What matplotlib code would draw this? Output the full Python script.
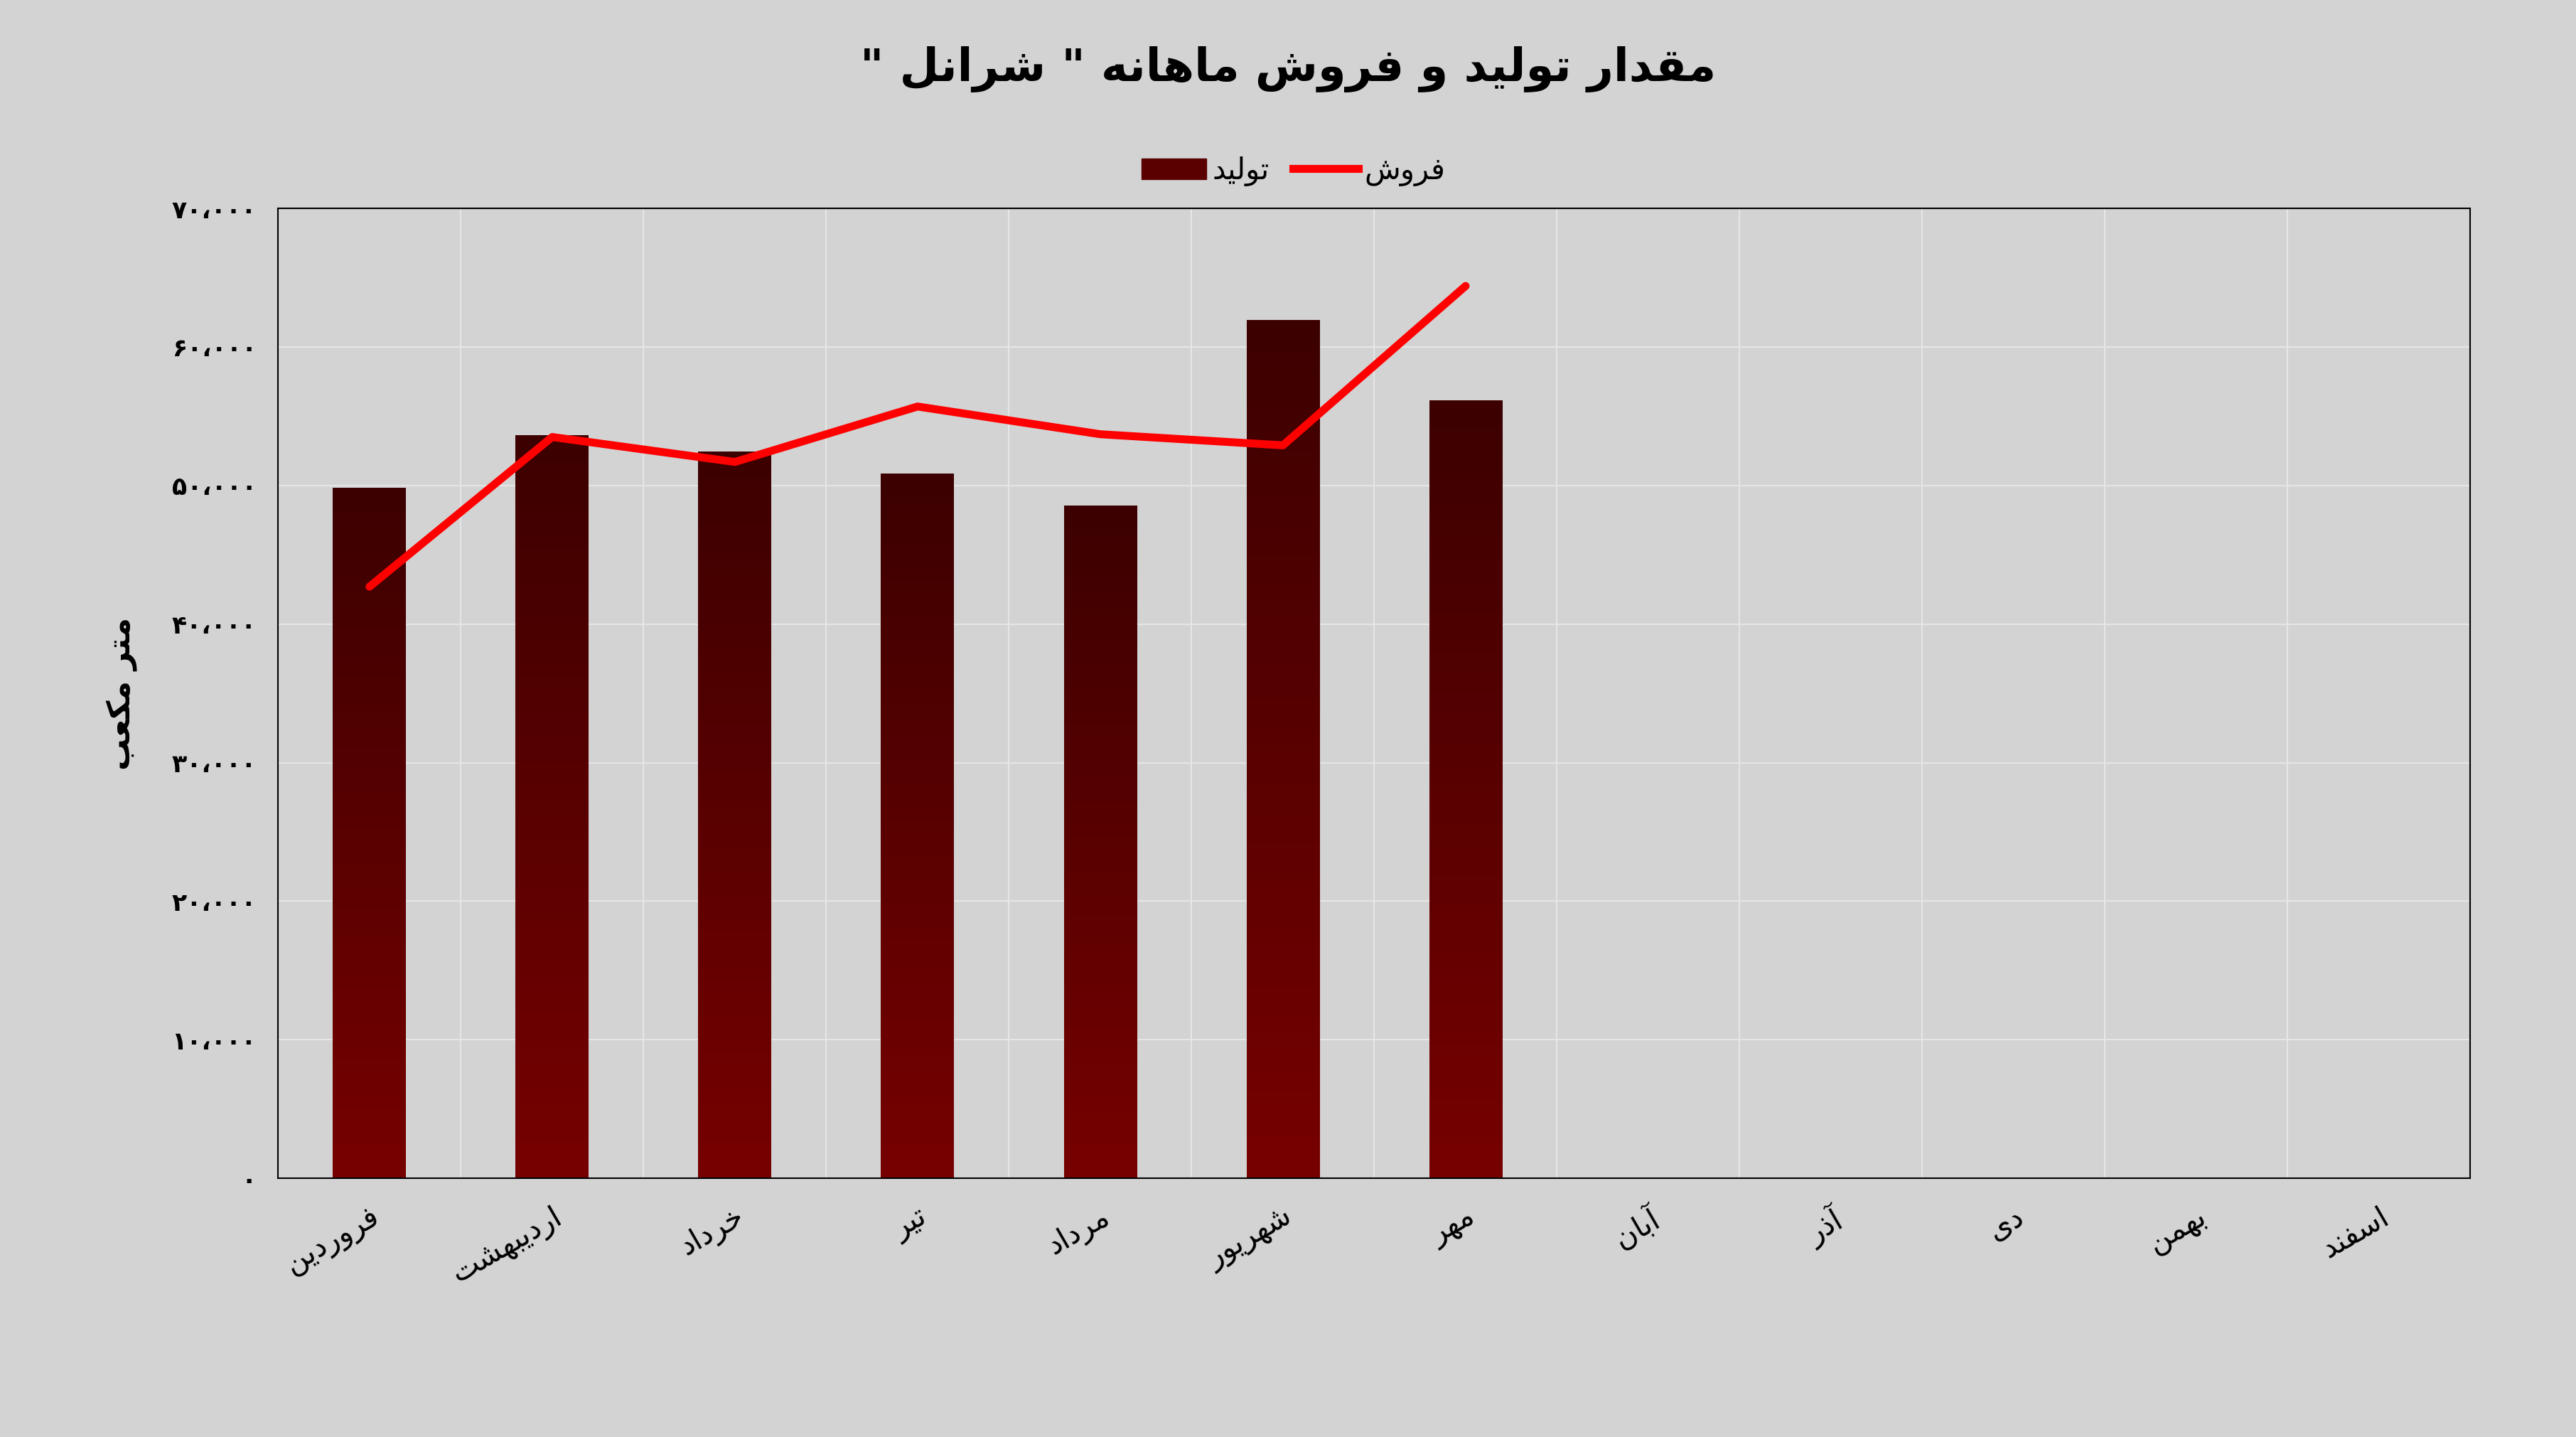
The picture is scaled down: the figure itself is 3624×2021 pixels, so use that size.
import matplotlib
matplotlib.use("Agg")
import matplotlib.pyplot as plt
import numpy as np
from matplotlib.ticker import FuncFormatter

months = ["فروردین","اردیبهشت","خرداد","تیر","مرداد","شهریور","مهر","آبان","آذر","دی","بهمن","اسفند"]
production = [49800, 53600, 52400, 50800, 48500, 61900, 56100]
sales = [42700, 53500, 51700, 55700, 53700, 52900, 64400]
title = 'مقدار تولید و فروش ماهانه " شرانل "'
ylabel = "متر مکعب"
leg_prod = "تولید"
leg_sales = "فروش"

FORMS = {
 'ا':(0xFE8D,0xFE8E,None,None),'آ':(0xFE81,0xFE82,None,None),
 'ب':(0xFE8F,0xFE90,0xFE91,0xFE92),'ت':(0xFE95,0xFE96,0xFE97,0xFE98),
 'خ':(0xFEA5,0xFEA6,0xFEA7,0xFEA8),'د':(0xFEA9,0xFEAA,None,None),
 'ذ':(0xFEAB,0xFEAC,None,None),'ر':(0xFEAD,0xFEAE,None,None),
 'س':(0xFEB1,0xFEB2,0xFEB3,0xFEB4),'ش':(0xFEB5,0xFEB6,0xFEB7,0xFEB8),
 'ع':(0xFEC9,0xFECA,0xFECB,0xFECC),'ف':(0xFED1,0xFED2,0xFED3,0xFED4),
 'ق':(0xFED5,0xFED6,0xFED7,0xFED8),'ل':(0xFEDD,0xFEDE,0xFEDF,0xFEE0),
 'م':(0xFEE1,0xFEE2,0xFEE3,0xFEE4),'ن':(0xFEE5,0xFEE6,0xFEE7,0xFEE8),
 'ه':(0xFEE9,0xFEEA,0xFEEB,0xFEEC),'و':(0xFEED,0xFEEE,None,None),
 'ک':(0xFB8E,0xFB8F,0xFB90,0xFB91),'ی':(0xFBFC,0xFBFD,0xFBFE,0xFBFF),
}
def dual(c):
    return c in FORMS and FORMS[c][2] is not None
def shape(s):
    out = []
    for i, c in enumerate(s):
        if c not in FORMS:
            out.append(c); continue
        prev = s[i-1] if i > 0 else ''
        nxt = s[i+1] if i+1 < len(s) else ''
        jp = dual(prev)
        jn = dual(c) and nxt in FORMS
        f = FORMS[c]
        if jp and jn: code = f[3]
        elif jp: code = f[1]
        elif jn: code = f[2]
        else: code = f[0]
        out.append(chr(code))
    return ''.join(out)[::-1]

plt.rcParams['font.family'] = ['DejaVu Sans']
PD = str.maketrans("0123456789", "۰۱۲۳۴۵۶۷۸۹")
def fa(v, p):
    v = int(round(v))
    s = f"{v:,}".replace(",", "،")
    return s.translate(PD)

bg = "#d3d3d3"
fig = plt.figure(figsize=(36.24, 20.21), dpi=100, facecolor=bg)
ax = fig.add_axes([0.108, 0.180, 0.851, 0.675], facecolor=bg)
x = np.arange(len(months))
bars = ax.bar(x[:len(production)], production, width=0.4, color="none", zorder=2)
grad = np.linspace(0, 1, 256).reshape(-1, 1)
from matplotlib.colors import LinearSegmentedColormap
cmap = LinearSegmentedColormap.from_list("g", ["#770000", "#3c0000"])
for b in bars:
    x0, w, h = b.get_x(), b.get_width(), b.get_height()
    ax.imshow(grad, extent=(x0, x0 + w, 0, h), origin="lower", aspect="auto", cmap=cmap, zorder=2)
ax.plot(x[:len(sales)], sales, color="#ff0000", lw=8, zorder=3, solid_capstyle="round")
ax.set_xlim(-0.5, len(months) - 0.5)
ax.set_ylim(0, 70000)
ax.set_yticks(range(0, 70001, 10000))
ax.yaxis.set_major_formatter(FuncFormatter(fa))
ax.set_xticks(x)
ax.set_xticklabels([shape(m) for m in months], rotation=30, ha="right", rotation_mode="anchor", fontsize=30)
for t in ax.get_yticklabels():
    t.set_fontweight("bold")
ax.tick_params(axis="y", labelsize=25, length=0, pad=22)
ax.tick_params(axis="x", length=0, pad=24)
ax.set_xticks(np.arange(-0.5, len(months), 1), minor=True)
ax.tick_params(axis="x", which="minor", length=0)
ax.grid(axis="y", color="#e6e6e6", lw=1.5, zorder=0)
ax.grid(axis="x", which="minor", color="#e6e6e6", lw=1.5, zorder=0)
ax.grid(axis="x", which="major", visible=False)
ax.set_axisbelow(True)
for sp in ax.spines.values():
    sp.set_color("black"); sp.set_linewidth(1.5)
ax.set_ylabel(shape(ylabel), fontsize=32, fontweight="bold", labelpad=35)
fig.text(0.5, 0.952, shape(title), ha="center", va="center", fontsize=46, fontweight="bold")
from matplotlib.patches import Patch
from matplotlib.lines import Line2D
handles = [Patch(color="#5a0000"), Line2D([0], [0], color="#ff0000", lw=8)]
fig.legend(handles, [shape(leg_prod), shape(leg_sales)], loc="center", bbox_to_anchor=(0.502, 0.881),
           ncol=2, frameon=False, fontsize=30, handlelength=2.2, columnspacing=0.8, handletextpad=0.2)
fig.savefig("out.png", dpi=100, facecolor=bg)
